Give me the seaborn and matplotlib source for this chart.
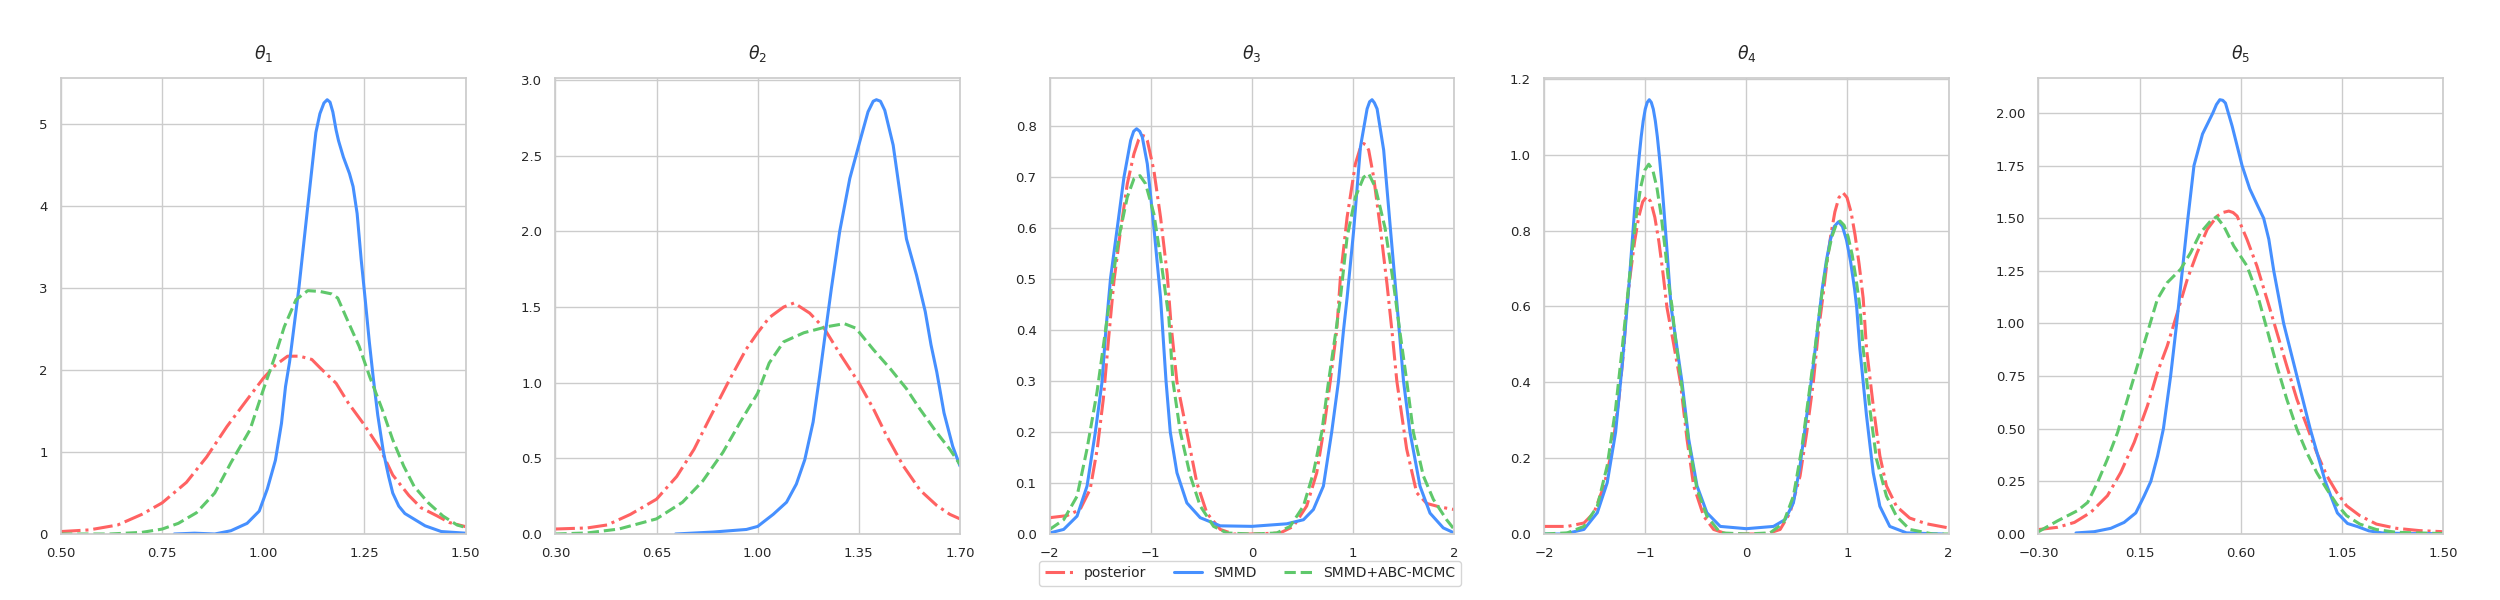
import numpy as np
import pandas as pd
import matplotlib
matplotlib.use("Agg")
import matplotlib.pyplot as plt
import seaborn as sns

# ---------------- data ----------------
titles = [r"$\theta_1$", r"$\theta_2$", r"$\theta_3$", r"$\theta_4$", r"$\theta_5$"]
series_names = ["posterior", "SMMD", "SMMD+ABC-MCMC"]
x_limits = [(0.50, 1.50), (0.30, 1.70), (-2.0, 2.0), (-2.0, 2.0), (-0.30, 1.50)]

# theta_1
x1_post = [0.50, 0.57, 0.64, 0.70, 0.75, 0.81, 0.86, 0.91, 0.96, 1.00, 1.03, 1.06, 1.09, 1.12, 1.14,
           1.18, 1.21, 1.25, 1.29, 1.32, 1.36, 1.39, 1.43, 1.46, 1.50]
y1_post = [0.03, 0.05, 0.11, 0.24, 0.38, 0.63, 0.94, 1.31, 1.64, 1.90, 2.06, 2.17, 2.17, 2.13, 2.03,
           1.84, 1.60, 1.33, 1.03, 0.72, 0.47, 0.32, 0.22, 0.14, 0.09]
x1_smmd = [0.78, 0.83, 0.88, 0.92, 0.96, 0.99, 1.01, 1.03, 1.045, 1.055, 1.065, 1.088, 1.11, 1.13,
           1.14, 1.15, 1.158, 1.165, 1.172, 1.18, 1.186, 1.198, 1.213, 1.222, 1.232, 1.242, 1.252,
           1.262, 1.272, 1.283, 1.297, 1.31, 1.32, 1.335, 1.35, 1.37, 1.40, 1.44, 1.50]
y1_smmd = [0.00, 0.01, 0.00, 0.04, 0.13, 0.28, 0.55, 0.90, 1.35, 1.80, 2.10, 3.00, 4.00, 4.90,
           5.13, 5.26, 5.30, 5.27, 5.15, 4.93, 4.80, 4.60, 4.40, 4.24, 3.91, 3.35, 2.86,
           2.35, 1.90, 1.45, 1.00, 0.70, 0.50, 0.34, 0.25, 0.19, 0.10, 0.03, 0.01]
x1_abc = [0.50, 0.62, 0.70, 0.75, 0.79, 0.835, 0.88, 0.92, 0.967, 1.00, 1.029, 1.052, 1.081, 1.11,
          1.14, 1.169, 1.184, 1.208, 1.237, 1.263, 1.294, 1.32, 1.347, 1.373, 1.408, 1.444, 1.479, 1.50]
y1_abc = [0.00, 0.00, 0.02, 0.06, 0.13, 0.26, 0.50, 0.87, 1.27, 1.76, 2.17, 2.53, 2.86, 2.97,
          2.96, 2.93, 2.88, 2.61, 2.29, 1.92, 1.52, 1.15, 0.83, 0.58, 0.38, 0.22, 0.11, 0.08]

# theta_2
x2_post = [0.30, 0.41, 0.48, 0.56, 0.65, 0.72, 0.78, 0.83, 0.90, 0.96, 1.00, 1.04, 1.09, 1.126,
           1.18, 1.23, 1.285, 1.35, 1.40, 1.446, 1.504, 1.562, 1.619, 1.665, 1.70]
y2_post = [0.033, 0.04, 0.06, 0.13, 0.23, 0.38, 0.56, 0.75, 1.01, 1.22, 1.33, 1.43, 1.50, 1.527,
           1.46, 1.36, 1.19, 1.00, 0.83, 0.65, 0.45, 0.29, 0.19, 0.13, 0.10]
x2_smmd = [0.716, 0.846, 0.961, 1.00, 1.054, 1.10, 1.134, 1.163, 1.192, 1.215, 1.238, 1.255, 1.284,
           1.319, 1.353, 1.382, 1.40, 1.411, 1.425, 1.44, 1.469, 1.492, 1.515, 1.55, 1.58, 1.60,
           1.62, 1.645, 1.675, 1.70]
y2_smmd = [0.0, 0.013, 0.03, 0.05, 0.13, 0.21, 0.33, 0.49, 0.74, 1.05, 1.38, 1.62, 2.0,
           2.35, 2.59, 2.79, 2.86, 2.87, 2.86, 2.80, 2.57, 2.26, 1.95, 1.71, 1.47, 1.25,
           1.07, 0.80, 0.58, 0.45]
x2_abc = [0.30, 0.41, 0.52, 0.65, 0.74, 0.81, 0.88, 0.94, 1.00, 1.04, 1.09, 1.16, 1.24, 1.30, 1.34,
          1.40, 1.46, 1.515, 1.56, 1.62, 1.665, 1.70]
y2_abc = [0.0, 0.007, 0.033, 0.10, 0.21, 0.35, 0.54, 0.74, 0.93, 1.13, 1.27, 1.33, 1.37, 1.39, 1.36,
          1.22, 1.09, 0.96, 0.83, 0.67, 0.56, 0.46]

# theta_3
x3_post = [-2.0, -1.83, -1.70, -1.60, -1.53, -1.47, -1.415, -1.365, -1.30, -1.233, -1.167, -1.12,
           -1.085, -1.055, -1.035, -0.97, -0.904, -0.838, -0.80, -0.742, -0.644, -0.545, -0.446,
           -0.314, -0.183, 0.0, 0.278, 0.41, 0.541, 0.64, 0.706, 0.774, 0.838, 0.874, 0.94, 1.022,
           1.07, 1.104, 1.13, 1.154, 1.203, 1.269, 1.335, 1.384, 1.432, 1.529, 1.628, 1.727, 1.858,
           2.0]
y3_post = [0.032, 0.036, 0.048, 0.088, 0.167, 0.265, 0.39, 0.496, 0.595, 0.687, 0.746, 0.774,
           0.782, 0.78, 0.772, 0.713, 0.621, 0.509, 0.41, 0.298, 0.20, 0.10, 0.041,
           0.009, 0.0, 0.0, 0.002, 0.015, 0.055, 0.12, 0.20, 0.30, 0.40, 0.503, 0.621, 0.726,
           0.757, 0.766, 0.763, 0.753, 0.70, 0.60, 0.49, 0.398, 0.30, 0.167, 0.081, 0.06, 0.053,
           0.048]
x3_smmd = [-2.0, -1.862, -1.73, -1.631, -1.549, -1.483, -1.445, -1.398, -1.332, -1.266, -1.20,
           -1.17, -1.141, -1.11, -1.085, -1.035, -0.97, -0.904, -0.85, -0.808, -0.742, -0.644,
           -0.512, -0.314, 0.0, 0.344, 0.509, 0.607, 0.706, 0.788, 0.854, 0.905, 0.94, 1.005, 1.072,
           1.138, 1.163, 1.187, 1.21, 1.237, 1.302, 1.368, 1.434, 1.498, 1.562, 1.661, 1.76, 1.891,
           2.0]
y3_smmd = [0.002, 0.009, 0.035, 0.094, 0.20, 0.298, 0.40, 0.503, 0.601, 0.70, 0.772,
           0.79, 0.795, 0.79, 0.779, 0.726, 0.601, 0.463, 0.30, 0.20, 0.12, 0.061,
           0.032, 0.016, 0.015, 0.02, 0.028, 0.048, 0.094, 0.20, 0.298, 0.40, 0.463, 0.595, 0.759,
           0.834, 0.848, 0.852, 0.846, 0.834, 0.753, 0.60, 0.45, 0.30, 0.20, 0.094, 0.041, 0.012,
           0.002]
x3_abc = [-2.0, -1.862, -1.73, -1.631, -1.532, -1.448, -1.381, -1.316, -1.233, -1.167, -1.108,
          -1.052, -0.97, -0.904, -0.822, -0.782, -0.709, -0.61, -0.512, -0.38, -0.249, 0.0, 0.245,
          0.377, 0.509, 0.607, 0.69, 0.756, 0.831, 0.874, 0.94, 1.022, 1.104, 1.154, 1.22, 1.316,
          1.40, 1.46, 1.53, 1.595, 1.694, 1.793, 1.924, 2.0]
y3_abc = [0.009, 0.028, 0.074, 0.167, 0.279, 0.40, 0.496, 0.582, 0.661, 0.697, 0.703,
          0.687, 0.628, 0.542, 0.424, 0.30, 0.20, 0.114, 0.055, 0.015, 0.002, 0.0, 0.002,
          0.015, 0.055, 0.12, 0.20, 0.298, 0.40, 0.463, 0.582, 0.661, 0.70, 0.707, 0.68, 0.60,
          0.49, 0.40, 0.30, 0.20, 0.114, 0.068, 0.028, 0.009]

# theta_4
x4_post = [-2.0, -1.77, -1.606, -1.507, -1.408, -1.326, -1.26, -1.211, -1.185, -1.145, -1.105,
           -1.065, -1.025, -0.985, -0.945, -0.905, -0.865, -0.825, -0.785, -0.725, -0.652, -0.587,
           -0.521, -0.422, -0.324, -0.192, 0.0, 0.2, 0.334, 0.432, 0.531, 0.597, 0.662, 0.712, 0.755,
           0.795, 0.835, 0.875, 0.915, 0.955, 0.995, 1.035, 1.075, 1.115, 1.155, 1.188, 1.254, 1.32,
           1.385, 1.484, 1.615, 1.78, 2.0]
y4_post = [0.02, 0.02, 0.029, 0.056, 0.127, 0.224, 0.357, 0.489, 0.597, 0.689, 0.771, 0.835,
           0.876, 0.89, 0.876, 0.835, 0.771, 0.689, 0.597, 0.51, 0.40, 0.25,
           0.127, 0.047, 0.012, 0.0, 0.0, 0.0, 0.012, 0.056, 0.153, 0.268, 0.40, 0.534, 0.622,
           0.711, 0.788, 0.849, 0.887, 0.90, 0.887, 0.849, 0.788, 0.711, 0.622, 0.489, 0.339, 0.206,
           0.127, 0.073, 0.042, 0.027, 0.016]
x4_smmd = [-2.0, -1.803, -1.606, -1.474, -1.376, -1.293, -1.228, -1.18, -1.16, -1.14, -1.12, -1.10,
           -1.08, -1.06, -1.04, -1.02, -1.00, -0.98, -0.96, -0.94, -0.92, -0.90, -0.88, -0.86,
           -0.84, -0.82, -0.80, -0.78, -0.745, -0.636, -0.57, -0.488, -0.39, -0.258, 0.0, 0.268,
           0.383, 0.465, 0.531, 0.597, 0.662, 0.728, 0.75, 0.79, 0.83, 0.87, 0.91, 0.95, 0.99,
           1.03, 1.07, 1.09, 1.122, 1.188, 1.254, 1.32, 1.418, 1.583, 1.944]
y4_smmd = [0.0, 0.0, 0.012, 0.056, 0.135, 0.268, 0.445, 0.595, 0.658, 0.731, 0.802, 0.872,
           0.937, 0.995, 1.047, 1.089, 1.12, 1.138, 1.145, 1.138, 1.12, 1.089, 1.047, 0.995,
           0.937, 0.872, 0.802, 0.731, 0.60, 0.40, 0.25, 0.127, 0.056, 0.02, 0.014, 0.02,
           0.038, 0.082, 0.18, 0.312, 0.445, 0.596, 0.646, 0.719, 0.775, 0.811, 0.823, 0.811, 0.775,
           0.719, 0.646, 0.60, 0.489, 0.312, 0.162, 0.073, 0.02, 0.003, 0.0]
x4_abc = [-2.0, -1.77, -1.606, -1.474, -1.376, -1.293, -1.228, -1.185, -1.165, -1.125, -1.085,
          -1.045, -1.005, -0.965, -0.925, -0.885, -0.845, -0.805, -0.765, -0.735, -0.71, -0.636,
          -0.57, -0.488, -0.39, -0.258, 0.0, 0.235, 0.366, 0.465, 0.547, 0.613, 0.679, 0.73, 0.766,
          0.806, 0.846, 0.886, 0.926, 0.966, 1.006, 1.046, 1.086, 1.122, 1.155, 1.221, 1.287, 1.385,
          1.484, 1.615, 1.845, 2.0]
y4_abc = [0.0, 0.003, 0.02, 0.073, 0.18, 0.33, 0.489, 0.60, 0.654, 0.756, 0.845, 0.914,
          0.959, 0.975, 0.959, 0.914, 0.845, 0.756, 0.654, 0.60, 0.534, 0.383, 0.242, 0.118,
          0.047, 0.003, 0.0, 0.003, 0.029, 0.10, 0.224, 0.357, 0.489, 0.60, 0.670, 0.736, 0.784,
          0.814, 0.825, 0.814, 0.784, 0.736, 0.670, 0.60, 0.489, 0.33, 0.197, 0.10, 0.047, 0.012,
          0.0, 0.0]

# theta_5
x5_post = [-0.3, -0.214, -0.14, -0.067, 0.007, 0.066, 0.126, 0.185, 0.229, 0.273, 0.318, 0.362,
           0.406, 0.451, 0.495, 0.52, 0.547, 0.566, 0.584, 0.628, 0.672, 0.717, 0.761, 0.805, 0.85,
           0.894, 0.938, 0.983, 1.027, 1.071, 1.13, 1.204, 1.293, 1.396, 1.5]
y5_post = [0.021, 0.032, 0.055, 0.103, 0.182, 0.292, 0.435, 0.609, 0.767, 0.893, 1.051, 1.209,
           1.336, 1.447, 1.51, 1.527, 1.534, 1.527, 1.51, 1.399, 1.273, 1.115, 0.957, 0.798, 0.640,
           0.514, 0.387, 0.277, 0.198, 0.134, 0.087, 0.047, 0.027, 0.016, 0.011]
x5_smmd = [-0.133, -0.052, 0.022, 0.081, 0.133, 0.17, 0.20, 0.23, 0.256, 0.288, 0.315, 0.34, 0.365,
           0.392, 0.43, 0.476, 0.492, 0.507, 0.52, 0.532, 0.562, 0.606, 0.64, 0.675, 0.702, 0.725,
           0.747, 0.791, 0.85, 0.909, 0.976, 1.03, 1.075, 1.12, 1.17, 1.23, 1.35, 1.485]
y5_smmd = [0.005, 0.011, 0.027, 0.055, 0.10, 0.18, 0.25, 0.37, 0.50, 0.75, 1.0, 1.25, 1.50,
           1.75, 1.90, 2.0, 2.04, 2.063, 2.06, 2.047, 1.937, 1.75, 1.64, 1.56, 1.50, 1.40,
           1.25, 1.0, 0.75, 0.50, 0.25, 0.10, 0.05, 0.035, 0.015, 0.005, 0.002, 0.002]
x5_abc = [-0.3, -0.214, -0.126, -0.081, -0.037, 0.007, 0.052, 0.096, 0.14, 0.185, 0.229, 0.273,
          0.332, 0.377, 0.421, 0.465, 0.492, 0.525, 0.569, 0.628, 0.672, 0.717, 0.761, 0.805, 0.85,
          0.894, 0.938, 0.983, 1.027, 1.071, 1.13, 1.204, 1.293, 1.5]
y5_abc = [0.011, 0.063, 0.111, 0.15, 0.245, 0.356, 0.482, 0.640, 0.798, 0.957, 1.115, 1.194,
          1.257, 1.336, 1.431, 1.486, 1.507, 1.462, 1.368, 1.273, 1.146, 0.972, 0.798, 0.640, 0.498,
          0.387, 0.292, 0.213, 0.142, 0.087, 0.047, 0.021, 0.008, 0.002]

panels = [
    [(x1_post, y1_post), (x1_smmd, y1_smmd), (x1_abc, y1_abc)],
    [(x2_post, y2_post), (x2_smmd, y2_smmd), (x2_abc, y2_abc)],
    [(x3_post, y3_post), (x3_smmd, y3_smmd), (x3_abc, y3_abc)],
    [(x4_post, y4_post), (x4_smmd, y4_smmd), (x4_abc, y4_abc)],
    [(x5_post, y5_post), (x5_smmd, y5_smmd), (x5_abc, y5_abc)],
]

# ---------------- style ----------------
sns.set_theme(style="whitegrid")
plt.rcParams["font.family"] = ["DejaVu Sans"]
colors = ["#ff6262", "#4690ff", "#5fc86b"]
styles = ["-.", "-", "--"]

fig, axes = plt.subplots(1, 5, figsize=(25, 6), dpi=100)
fig.subplots_adjust(left=0.0244, right=0.9772, top=0.87, bottom=0.11, wspace=0.222)

for i, ax in enumerate(axes):
    for j, (xs, ys) in enumerate(panels[i]):
        df = pd.DataFrame({"x": xs, "y": ys})
        sns.lineplot(data=df, x="x", y="y", ax=ax, color=colors[j], linestyle=styles[j],
                     linewidth=2.2, label=series_names[j], estimator=None, sort=True)
    lo, hi = x_limits[i]
    ax.set_xlim(lo, hi)
    ax.set_xticks(np.linspace(lo, hi, 5))
    ax.set_ylim(bottom=0)
    ax.set_xlabel("")
    ax.set_ylabel("")
    ax.set_title(titles[i], fontsize=12.5, pad=14)
    ax.tick_params(labelsize=9.5)
    leg = ax.get_legend()
    if leg is not None:
        leg.remove()

handles, labels = axes[0].get_legend_handles_labels()
fig.legend(handles, labels, loc="lower center", bbox_to_anchor=(0.5, 0.012), ncol=3,
           fontsize=10, frameon=True)

fig.savefig("out.png", dpi=100)
